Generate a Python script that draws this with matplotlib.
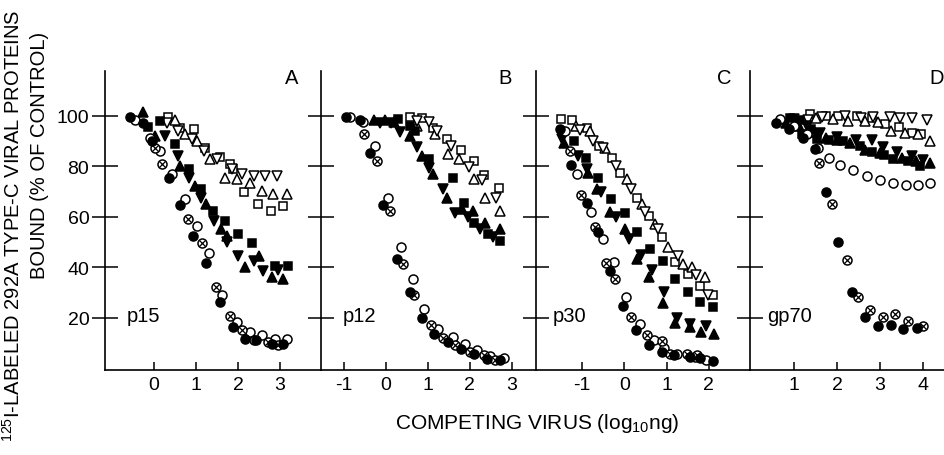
import matplotlib
matplotlib.use("Agg")
import matplotlib.pyplot as plt

plt.rcParams['font.family'] = ['Liberation Sans', 'DejaVu Sans']
plt.rcParams['mathtext.fontset'] = 'custom'
plt.rcParams['mathtext.rm'] = 'Liberation Sans'
plt.rcParams['mathtext.it'] = 'Liberation Sans'
plt.rcParams['mathtext.default'] = 'regular'

# ---------------- data (log10 ng, % of control) ----------------
panel_names = ["p15", "p12", "p30", "gp70"]
panel_letters = ["A", "B", "C", "D"]
xticks_A = [0, 1, 2, 3]
xticks_B = [-1, 0, 1, 2, 3]
xticks_C = [-1, 0, 1, 2]
xticks_D = [1, 2, 3, 4]
yticks = [20, 40, 60, 80, 100]

# Panel A (p15)
A_fc_x = [-0.57, -0.25, -0.05, 0.36, 0.63, 0.94, 1.25, 1.56, 1.89, 2.17, 2.44, 2.80, 3.08]
A_fc_y = [99.5, 97.0, 90.0, 75.5, 64.7, 52.2, 41.7, 26.2, 16.4, 11.8, 11.2, 9.8, 9.8]
A_oc_x = [-0.45, -0.10, 0.14, 0.42, 0.74, 1.03, 1.31, 1.63, 1.97, 2.29, 2.56, 2.88, 3.16]
A_oc_y = [98.4, 91.0, 86.0, 77.0, 66.9, 56.2, 45.7, 28.9, 18.4, 14.4, 13.1, 11.8, 11.8]
A_xc_x = [0.02, 0.20, 0.82, 1.15, 1.48, 1.81, 2.09, 2.37, 2.72, 2.96]
A_xc_y = [87.0, 81.0, 59.3, 49.6, 32.2, 20.7, 15.1, 11.2, 10.5, 9.2]
A_fs_x = [-0.15, 0.14, 0.50, 0.84, 1.13, 1.40, 1.69, 2.00, 2.33, 2.88, 3.20]
A_fs_y = [95.5, 98.0, 88.6, 78.7, 70.9, 62.3, 58.4, 53.1, 49.6, 40.4, 40.4]
A_fu_x = [-0.27, 0.02, 0.63, 0.98, 1.25, 1.59, 1.73, 2.17, 2.51, 2.80, 3.08]
A_fu_y = [101.3, 92.0, 80.0, 72.2, 65.0, 55.0, 52.5, 40.0, 44.6, 36.0, 35.4]
A_fd_x = [0.26, 0.56, 0.84, 1.13, 1.44, 1.75, 2.00, 2.37, 2.60, 2.95]
A_fd_y = [92.0, 84.0, 75.5, 67.6, 58.4, 50.0, 44.6, 42.7, 38.7, 39.0]
A_os_x = [0.34, 0.63, 0.95, 1.21, 1.57, 1.81, 1.89, 2.15, 2.48, 2.78, 3.06]
A_os_y = [99.5, 95.0, 94.5, 87.3, 83.7, 80.7, 78.7, 69.8, 65.0, 62.3, 64.3]
A_ou_x = [0.50, 0.74, 1.02, 1.33, 1.69, 1.97, 2.29, 2.56, 2.84, 3.16]
A_ou_y = [98.4, 92.5, 90.0, 82.7, 75.5, 75.0, 73.2, 70.2, 68.9, 68.9]
A_od_x = [0.32, 0.56, 0.90, 1.20, 1.50, 1.85, 2.09, 2.37, 2.64, 2.92]
A_od_y = [97.0, 94.0, 90.6, 86.0, 83.0, 79.0, 76.8, 75.9, 75.9, 75.9]

# Panel B (p12)
B_fc_x = [-0.94, -0.61, -0.37, -0.06, 0.28, 0.58, 0.86, 1.15, 1.49, 1.79, 2.09, 2.40, 2.71]
B_fc_y = [99.5, 98.2, 85.0, 64.7, 43.3, 30.2, 19.9, 13.8, 10.5, 7.9, 5.9, 3.9, 3.3]
B_oc_x = [-0.85, -0.55, -0.25, 0.05, 0.36, 0.64, 0.91, 1.25, 1.60, 1.89, 2.17, 2.48, 2.82]
B_oc_y = [99.5, 97.5, 87.9, 67.6, 47.9, 35.4, 23.6, 15.7, 12.5, 9.8, 7.2, 4.9, 4.3]
B_xc_x = [-0.51, -0.20, 0.10, 0.40, 0.67, 1.07, 1.36, 1.65, 2.00, 2.33, 2.60]
B_xc_y = [92.5, 82.0, 62.3, 41.3, 28.9, 17.1, 12.1, 9.2, 6.6, 5.2, 3.3]
B_fs_x = [0.30, 0.58, 0.70, 1.04, 1.60, 1.85, 2.09, 2.44, 2.72]
B_fs_y = [98.7, 95.8, 93.8, 82.9, 75.5, 65.6, 57.5, 53.1, 50.5]
B_fu_x = [-0.28, -0.02, 0.20, 0.58, 0.86, 1.13, 1.45, 1.81, 2.07, 2.37, 2.71]
B_fu_y = [98.4, 98.4, 97.5, 91.9, 84.0, 76.8, 67.6, 63.0, 62.3, 57.7, 55.1]
B_fd_x = [-0.13, 0.12, 0.34, 0.74, 1.02, 1.36, 1.65, 1.95, 2.25, 2.55]
B_fd_y = [97.1, 97.1, 93.4, 87.7, 79.4, 70.9, 61.4, 60.0, 55.1, 52.0]
B_os_x = [0.58, 0.86, 1.13, 1.45, 1.79, 2.10, 2.33, 2.68]
B_os_y = [99.5, 99.0, 95.1, 90.6, 86.4, 82.0, 76.4, 71.5]
B_ou_x = [0.75, 1.16, 1.47, 1.75, 2.09, 2.37, 2.71]
B_ou_y = [95.8, 92.5, 84.6, 82.7, 74.8, 67.6, 62.3]
B_od_x = [0.75, 1.04, 1.23, 1.55, 1.97, 2.29, 2.63]
B_od_y = [97.8, 97.4, 93.8, 88.0, 79.8, 74.5, 67.6]

# Panel C (p30)
C_fc_x = [-1.52, -1.26, -0.89, -0.61, -0.34, -0.04, 0.28, 0.59, 0.88, 1.17, 1.55, 1.80, 2.10]
C_fc_y = [94.5, 80.3, 65.6, 53.8, 38.7, 24.9, 15.1, 9.4, 6.6, 5.2, 4.6, 4.0, 2.9]
C_oc_x = [-1.40, -1.13, -0.79, -0.51, -0.24, 0.04, 0.37, 0.70, 0.95, 1.24, 1.67, 1.94]
C_oc_y = [93.8, 76.8, 61.9, 51.4, 42.3, 28.2, 17.7, 11.2, 8.0, 5.9, 4.6, 3.3]
C_xc_x = [-1.28, -1.03, -0.69, -0.43, -0.22, 0.17, 0.53, 0.88, 1.09, 1.49, 1.72]
C_xc_y = [86.0, 68.5, 55.8, 41.7, 35.4, 20.3, 13.1, 10.8, 5.9, 5.9, 5.2]
C_fs_x = [-1.20, -0.91, -0.61, -0.32, 0.02, 0.31, 0.61, 0.92, 1.20, 1.50, 1.79, 2.10]
C_fs_y = [89.9, 83.3, 75.5, 66.9, 61.4, 53.8, 47.2, 42.7, 35.4, 30.2, 26.2, 24.3]
C_fu_x = [-1.42, -0.85, -0.64, -0.34, 0.02, 0.29, 0.59, 0.92, 1.21, 1.55, 1.81, 2.13]
C_fu_y = [89.0, 77.4, 70.9, 61.7, 55.1, 43.3, 36.1, 26.0, 18.1, 16.4, 14.4, 13.8]
C_fd_x = [-1.48, -1.09, -0.87, -0.54, -0.20, 0.12, 0.40, 0.65, 0.94, 1.24, 1.55, 1.94]
C_fd_y = [90.6, 84.0, 79.0, 69.6, 59.7, 51.2, 45.0, 39.0, 30.2, 19.9, 17.7, 17.0]
C_os_x = [-1.50, -1.24, -0.89, -0.60, -0.30, -0.10, 0.29, 0.59, 0.88, 1.20, 1.51, 1.79, 2.10]
C_os_y = [98.7, 98.4, 95.1, 88.0, 83.3, 77.4, 67.6, 60.4, 51.8, 42.0, 37.4, 32.8, 28.9]
C_ou_x = [-1.15, -0.80, -0.45, 0.06, 0.41, 0.72, 1.04, 1.39, 1.59, 1.91]
C_ou_y = [96.0, 93.8, 87.0, 74.8, 65.0, 57.1, 47.9, 41.3, 40.0, 36.1]
C_od_x = [-1.05, -0.73, -0.51, -0.20, 0.15, 0.50, 0.80, 1.28, 1.70, 1.98]
C_od_y = [94.2, 89.9, 87.3, 80.0, 71.0, 62.0, 55.0, 44.6, 37.0, 28.9]

# Panel D (gp70)
D_fc_x = [0.58, 0.88, 1.20, 1.48, 1.75, 2.03, 2.34, 2.65, 2.96, 3.27, 3.55, 3.86]
D_fc_y = [97.1, 94.8, 91.0, 86.6, 69.8, 50.1, 30.4, 20.3, 16.7, 17.3, 15.7, 16.0]
D_oc_x = [0.66, 1.00, 1.29, 1.55, 1.82, 2.07, 2.38, 2.69, 3.00, 3.30, 3.62, 3.90, 4.17]
D_oc_y = [98.7, 96.0, 92.5, 87.0, 83.3, 80.3, 78.5, 76.1, 74.5, 73.5, 72.4, 72.4, 73.5]
D_xc_x = [1.58, 1.87, 2.22, 2.49, 2.77, 3.08, 3.35, 3.66, 4.01]
D_xc_y = [81.4, 65.0, 42.9, 28.2, 23.0, 20.3, 21.7, 19.0, 16.7]
D_fs_x = [0.90, 1.13, 1.17, 1.40, 1.54, 1.80, 2.14, 2.53, 2.81, 3.10, 3.31, 3.65, 3.94]
D_fs_y = [99.0, 98.4, 92.5, 94.5, 90.8, 90.5, 89.9, 87.9, 85.6, 84.5, 82.7, 82.0, 80.0]
D_fu_x = [0.80, 1.10, 1.45, 1.75, 1.99, 2.30, 2.65, 3.00, 3.51, 3.85, 4.17]
D_fu_y = [97.0, 96.0, 93.5, 91.2, 90.2, 89.2, 86.5, 85.0, 83.3, 82.0, 81.4]
D_fd_x = [1.00, 1.30, 1.60, 2.00, 2.43, 2.81, 3.08, 3.40, 3.74, 4.00]
D_fd_y = [98.5, 96.0, 93.0, 91.5, 90.5, 90.3, 87.7, 85.5, 84.0, 82.5]
D_os_x = [1.36, 1.75, 2.03, 2.46, 2.81, 3.12, 3.45, 3.74, 3.95]
D_os_y = [100.4, 99.7, 100.0, 99.7, 99.1, 96.5, 95.5, 92.9, 92.5]
D_ou_x = [1.50, 1.90, 2.26, 2.65, 2.95, 3.27, 3.59, 3.88, 4.17]
D_ou_y = [99.0, 98.5, 98.0, 97.8, 97.5, 93.8, 92.9, 92.5, 89.9]
D_od_x = [1.32, 1.65, 2.18, 2.55, 2.85, 3.23, 3.48, 3.76, 4.09]
D_od_y = [98.4, 99.5, 99.7, 99.2, 99.5, 99.5, 99.1, 99.1, 98.4]

panels = [
    dict(fc=(A_fc_x, A_fc_y), oc=(A_oc_x, A_oc_y), xc=(A_xc_x, A_xc_y), fs=(A_fs_x, A_fs_y),
         fu=(A_fu_x, A_fu_y), fd=(A_fd_x, A_fd_y), os=(A_os_x, A_os_y), ou=(A_ou_x, A_ou_y),
         od=(A_od_x, A_od_y)),
    dict(fc=(B_fc_x, B_fc_y), oc=(B_oc_x, B_oc_y), xc=(B_xc_x, B_xc_y), fs=(B_fs_x, B_fs_y),
         fu=(B_fu_x, B_fu_y), fd=(B_fd_x, B_fd_y), os=(B_os_x, B_os_y), ou=(B_ou_x, B_ou_y),
         od=(B_od_x, B_od_y)),
    dict(fc=(C_fc_x, C_fc_y), oc=(C_oc_x, C_oc_y), xc=(C_xc_x, C_xc_y), fs=(C_fs_x, C_fs_y),
         fu=(C_fu_x, C_fu_y), fd=(C_fd_x, C_fd_y), os=(C_os_x, C_os_y), ou=(C_ou_x, C_ou_y),
         od=(C_od_x, C_od_y)),
    dict(fc=(D_fc_x, D_fc_y), oc=(D_oc_x, D_oc_y), xc=(D_xc_x, D_xc_y), fs=(D_fs_x, D_fs_y),
         fu=(D_fu_x, D_fu_y), fd=(D_fd_x, D_fd_y), os=(D_os_x, D_os_y), ou=(D_ou_x, D_ou_y),
         od=(D_od_x, D_od_y)),
]
panel_xticks = [xticks_A, xticks_B, xticks_C, xticks_D]

# ---------------- layout ----------------
W, H = 945, 456
fig = plt.figure(figsize=(W / 100, H / 100), dpi=100)

# pixel geometry: left edge, right edge, pixel position of x tick value 'x0'
geom = [(105, 321, 154.0, 0, 42.0),
        (321, 536, 385.7, 0, 42.1),
        (536, 750, 624.3, 0, 42.3),
        (750, 945, 794.3, 1, 42.8)]
y_bot_px, y_top_px = 370.5, 72.0
y0_px, ppu_y = 369.6, 2.531

styles = {
    'fc': dict(marker='o', ms=6.5, mfc='black', mec='black'),
    'oc': dict(marker='o', ms=6.5, mfc='white', mec='black'),
    'xc': dict(marker='o', ms=6.5, mfc='white', mec='black'),
    'fs': dict(marker='s', ms=5.6, mfc='black', mec='black'),
    'os': dict(marker='s', ms=5.6, mfc='white', mec='black'),
    'fu': dict(marker='^', ms=7, mfc='black', mec='black'),
    'ou': dict(marker='^', ms=6.5, mfc='white', mec='black'),
    'fd': dict(marker='v', ms=7, mfc='black', mec='black'),
    'od': dict(marker='v', ms=6.5, mfc='white', mec='black'),
}
order = ['os', 'ou', 'od', 'fs', 'fu', 'fd', 'oc', 'xc', 'fc']

label_x_px = [127, 343, 553, 767]
letter_x_px = [292, 505, 724, 937]

for i, (l, r, x0px, x0val, ppu) in enumerate(geom):
    ax = fig.add_axes([l / W, 1 - y_bot_px / H, (r - l) / W, (y_bot_px - y_top_px) / H])
    ax.set_xlim(x0val + (l - x0px) / ppu, x0val + (r - x0px) / ppu)
    ax.set_ylim((y0_px - y_bot_px) / ppu_y, (y0_px - y_top_px) / ppu_y)
    ax.patch.set_alpha(0)
    for s in ['top', 'right']:
        ax.spines[s].set_visible(False)
    for s in ['left', 'bottom']:
        ax.spines[s].set_linewidth(1.2)
    ax.set_yticks(yticks)
    ax.set_xticks(panel_xticks[i])
    ax.tick_params(axis='y', direction='inout', length=18.5, width=1.1, pad=2,
                   labelsize=14, labelleft=(i == 0))
    ax.tick_params(axis='x', direction='in', length=6, width=1.1, pad=5, labelsize=14)
    ax.set_xticklabels([str(t) for t in panel_xticks[i]])

    d = panels[i]
    for key in order:
        xs, ys = d[key]
        ax.plot(xs, ys, linestyle='none', mew=1.1, clip_on=False, **styles[key])
        if key == 'xc':
            ax.plot(xs, ys, linestyle='none', marker='x', ms=3.8, mew=0.9,
                    color='black', clip_on=False)

    lx = x0val + (label_x_px[i] - x0px) / ppu
    ax.text(lx, (y0_px - 322) / ppu_y, panel_names[i], fontsize=14.5,
            ha='left', va='baseline')
    cx = x0val + (letter_x_px[i] - x0px) / ppu
    ax.text(cx, (y0_px - 79) / ppu_y, panel_letters[i], fontsize=14.5,
            ha='center', va='center', clip_on=False)

fig.text(537 / W, 1 - 424 / H, r'COMPETING VIRUS (log$_{10}$ng)', fontsize=15,
         ha='center', va='center')
fig.text(13 / W, 1 - 226 / H, r'$^{125}$I-LABELED 292A TYPE-C VIRAL PROTEINS',
         fontsize=14.5, rotation=90, ha='center', va='center')
fig.text(40 / W, 1 - 155 / H, 'BOUND (% OF CONTROL)', fontsize=14.5, rotation=90,
         ha='center', va='center')

fig.savefig('out.png', dpi=100)
